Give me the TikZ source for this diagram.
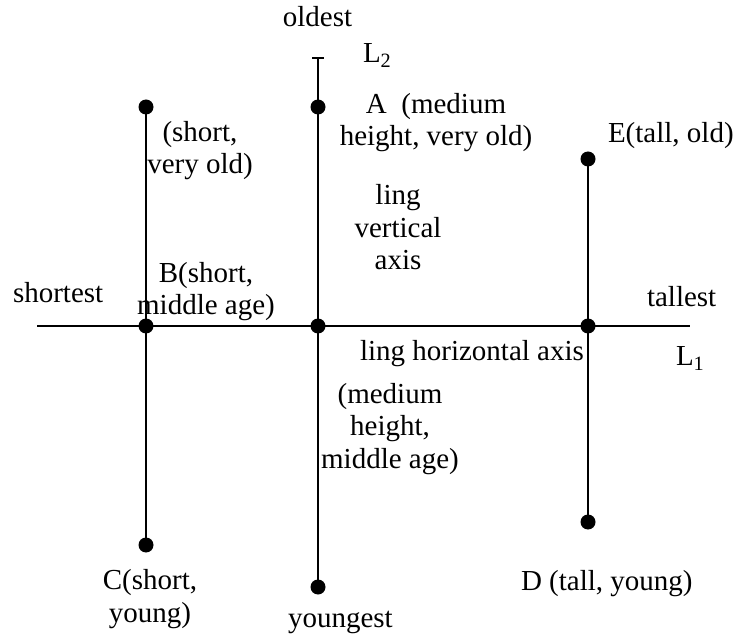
\documentclass[tikz,border=0pt]{standalone}
\usepackage{fontspec}
\setmainfont{Liberation Serif}
\tikzset{
  dot/.style={circle,fill,inner sep=0pt,minimum size=15pt},
  lbl/.style={inner sep=0pt,align=center,font=\fontsize{29}{32.5}\selectfont},
}
\begin{document}
\begin{tikzpicture}[x=1pt,y=-1pt,line width=2pt]
	\useasboundingbox (0,0) rectangle (737,639);
	
	% Draw dots
	\node[dot] (A) at (318,107) {};
	\node[dot] (shortold) at (146,107) {};
	\node[dot] (B) at (146,326) {};
	\node[dot] (O) at (318,326) {};
	\node[dot] (tallmid) at (588,326) {};
	\node[dot] (E) at (588,159) {};
	\node[dot] (D) at (588,522) {};
	\node[dot] (C) at (146,545) {};
	\node[dot] (Y) at (318,587) {};
	
	% Draw axis ends
	\coordinate (L1w) at (37,326);
	\coordinate (L1e) at (690,326);
	\coordinate (L2n) at (318,58);
	\coordinate (tickw) at (312,58);
	\coordinate (ticke) at (324,58);
	
	% Draw lines
	\draw (L1w) -- (L1e);
	\draw (L2n) -- (Y.center);
	\draw (tickw) -- (ticke);
	\draw (shortold.center) -- (C.center);
	\draw (E.center) -- (D.center);
	
	% Draw labels (multi-line ones sit on their last baseline)
	\node[lbl,anchor=base] (oldest) at (317.5,27) {oldest};
	\node[lbl,anchor=base west] (L2) at (362,63) {L\textsubscript{2}};
	\node[lbl,anchor=base] (Alab) at (436,146) {A~~(medium\\height, very old)};
	\node[lbl,anchor=base] (solab) at (200,174) {(short,\\very old)};
	\node[lbl,anchor=base west] (Elab) at (607,143) {E(tall, old)};
	\node[lbl,anchor=base] (vaxis) at (398,270) {ling\\vertical\\axis};
	\node[lbl,anchor=base west] (shortest) at (12,303) {shortest};
	\node[lbl,anchor=base] (Blab) at (206,315) {B(short,\\middle age)};
	\node[lbl,anchor=base west] (tallest) at (646,307) {tallest};
	\node[lbl,anchor=base west] (L1) at (675,366) {L\textsubscript{1}};
	\node[lbl,anchor=base west] (haxis) at (359,360) {ling horizontal axis};
	\node[lbl,anchor=base] (Olab) at (390,468) {(medium\\height,\\middle age)};
	\node[lbl,anchor=base] (Clab) at (150,622) {C(short,\\young)};
	\node[lbl,anchor=base west] (Dlab) at (520,590) {D (tall, young)};
	\node[lbl,anchor=base west] (youngest) at (287,627) {youngest};
	
\end{tikzpicture}
\end{document}
